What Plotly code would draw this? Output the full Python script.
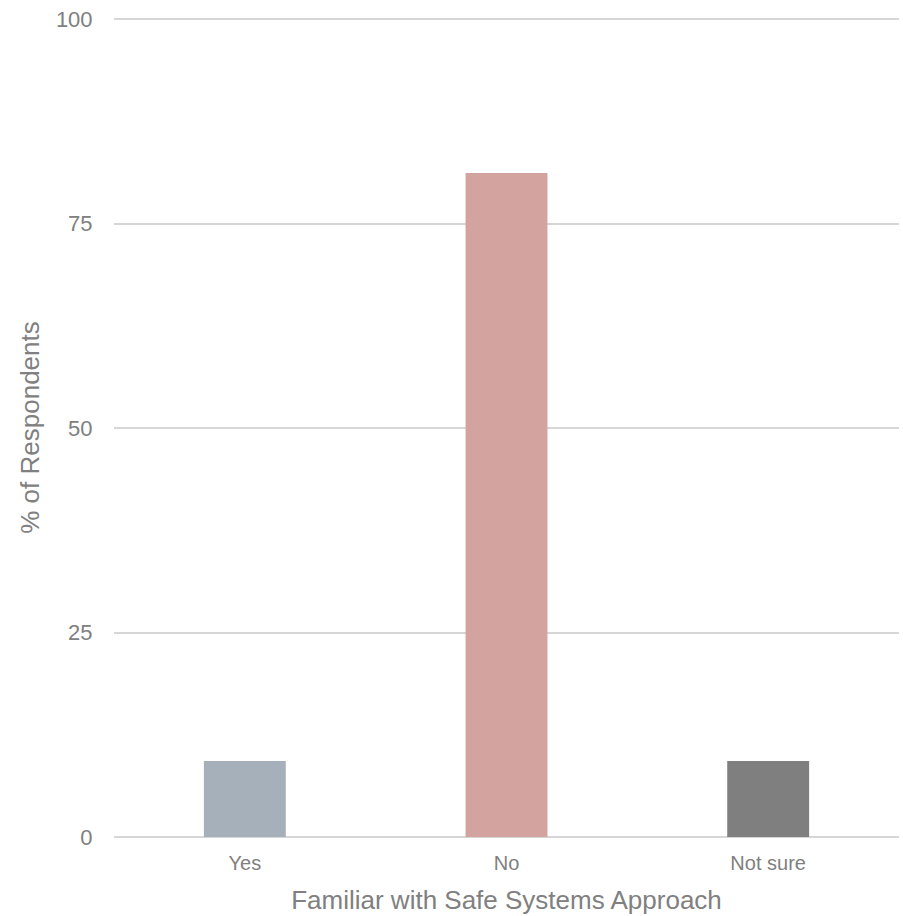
import plotly.graph_objects as go

categories = ["Yes", "No", "Not sure"]
values = [9.3, 81.2, 9.3]
colors = ["#A6B0BB", "#D2A39F", "#7F7F7F"]
y_ticks = [0, 25, 50, 75, 100]

FONT = "Liberation Sans, Arial, sans-serif"
TXT = "#808080"

fig = go.Figure(
    go.Bar(
        x=categories,
        y=values,
        marker=dict(color=colors, line=dict(width=0)),
        hoverinfo="x+y",
    )
)

fig.update_layout(
    width=903,
    height=916,
    margin=dict(l=114, r=4, t=18, b=79),
    paper_bgcolor="white",
    plot_bgcolor="white",
    bargap=0.687,
    showlegend=False,
    font=dict(family=FONT, color=TXT),
)

fig.update_xaxes(
    showgrid=False,
    showline=False,
    zeroline=False,
    ticks="outside",
    ticklen=8,
    tickcolor="rgba(0,0,0,0)",
    tickfont=dict(size=20, color=TXT, family=FONT),
    title=dict(
        text="Familiar with Safe Systems Approach",
        font=dict(size=26, color=TXT, family=FONT),
        standoff=17,
    ),
)

fig.update_yaxes(
    range=[0, 100.15],
    tickvals=y_ticks,
    showgrid=True,
    gridcolor="#D6D6D6",
    gridwidth=1.5,
    zeroline=True,
    zerolinecolor="#D6D6D6",
    zerolinewidth=1.6,
    showline=False,
    ticks="outside",
    ticklen=16,
    tickcolor="rgba(0,0,0,0)",
    tickfont=dict(size=22, color=TXT, family=FONT),
    title=dict(
        text="% of Respondents",
        font=dict(size=26, color=TXT, family=FONT),
        standoff=8,
    ),
)

fig.write_html("out.html")
